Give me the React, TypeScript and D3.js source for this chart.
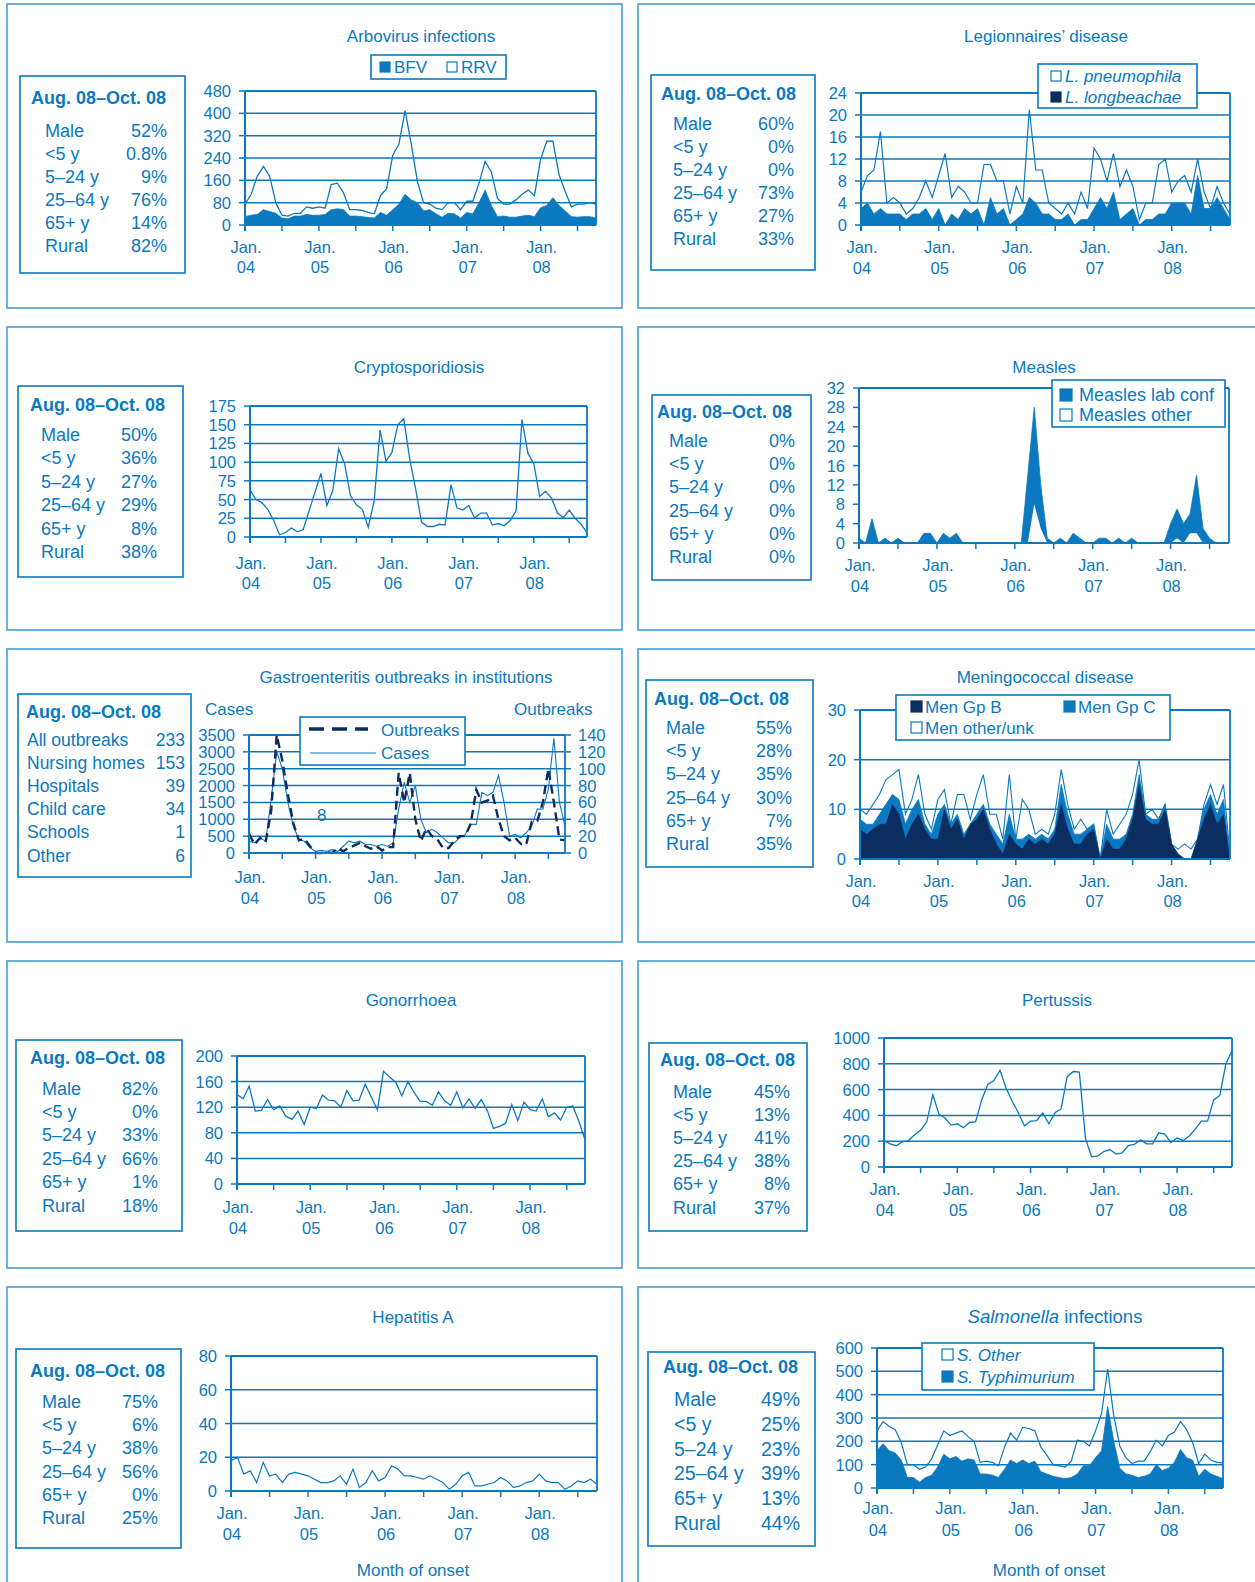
import React from "react";
import * as d3 from "d3";

const BLUE = "#0a79bf";
const NAVY = "#0c2d60";
const FRAME = "#3a97d4";
const FONT = "'Liberation Sans', Arial, Helvetica, sans-serif";

// ---------- shared axis categories (month index 0 = Jan 04 ... 57 = Oct 08) ----------
const yearLabels = ["04", "05", "06", "07", "08"];
const janMonthIndex = [0, 12, 24, 36, 48];
const halfYearTicks = [0, 6, 12, 18, 24, 30, 36, 42, 48, 54];
const demoLabels = ["Male", "<5 y", "5–24 y", "25–64 y", "65+ y", "Rural"];

// ---------- Arbovirus ----------
const arboTotal = [75,110,175,210,175,80,35,32,42,42,65,60,65,60,145,150,115,55,55,52,45,40,105,130,250,290,410,290,155,80,75,60,55,80,80,55,85,85,150,228,190,95,75,75,90,110,125,105,235,300,300,180,120,65,75,75,80,75];
const arboBFV = [30,35,38,55,48,42,25,22,32,32,38,35,35,38,55,58,55,32,32,30,27,25,45,35,55,75,110,90,80,50,55,40,28,42,40,25,45,40,80,125,70,30,32,28,28,32,35,30,62,70,98,70,50,30,28,30,30,25];
const arboStats = ["52%", "0.8%", "9%", "76%", "14%", "82%"];
const arboTicks = [0, 80, 160, 240, 320, 400, 480];

// ---------- Legionnaires ----------
const legioTotal = [6,9,10,17,4,5,4,2,3,5,8,5,9,13,5,7,6,4,4,11,11,8,8,2,7,4,21,10,10,4,3,2,4,2,6,3,14,12,8,13,7,10,7,1,4,4,11,12,6,8,9,6,12,6,3,7,4,2];
const legioLongbeachae = [3,4,2,3,2,2,2,1,2,2,3,1,3,0,2,1,3,2,3,0,5,2,3,0,1,2,5,4,2,2,1,1,2,0,1,1,3,5,3,6,1,2,3,0,1,1,2,2,4,4,4,2,9,3,3,5,3,1];
const legioStats = ["60%", "0%", "0%", "73%", "27%", "33%"];
const legioTicks = [0, 4, 8, 12, 16, 20, 24];

// ---------- Cryptosporidiosis ----------
const cryptoCases = [63,50,46,37,22,3,6,12,7,10,35,60,85,42,62,118,98,55,43,37,13,48,143,101,113,150,158,105,65,20,14,14,17,16,70,39,36,42,25,32,32,16,18,15,22,35,157,112,98,54,61,52,32,26,36,25,17,6];
const cryptoStats = ["50%", "36%", "27%", "29%", "8%", "38%"];
const cryptoTicks = [0, 25, 50, 75, 100, 125, 150, 175];

// ---------- Measles ----------
const measlesTotal = [1,0,5,0,1,0,1,0,0,0,2,2,0,2,1,2,0,0,0,0,0,0,0,0,0,0,14,28,12,1,0,1,0,2,1,0,0,1,1,0,1,0,1,0,0,0,0,0,4,7,4,6,14,3,1,0,0,0];
const measlesOther = [0,0,0,0,0,0,0,0,0,0,0,0,0,0,0,0,0,0,0,0,0,0,0,0,0,0,0,8,3,0,0,0,0,0,0,0,0,0,0,0,0,0,0,0,0,0,0,0,0,1,0,2,2,0,0,0,0,0];
const measlesStats = ["0%", "0%", "0%", "0%", "0%", "0%"];
const measlesTicks = [0, 4, 8, 12, 16, 20, 24, 28, 32];

// ---------- Gastroenteritis ----------
const gastroCases = [350,300,450,350,1600,3000,2500,1500,800,400,350,150,50,80,50,100,50,200,350,300,350,250,250,200,250,200,300,1300,2100,1500,2000,1000,600,700,600,450,300,300,450,550,850,850,1800,1700,1800,2300,1500,500,550,450,600,800,1300,1300,1900,3400,1500,800];
const gastroOutbreaks = [23,10,18,13,50,140,110,70,35,15,17,8,0,0,1,0,6,2,6,9,12,8,5,8,3,7,7,95,60,95,40,14,29,20,16,6,6,14,20,20,35,75,60,62,68,40,20,15,18,11,10,37,38,60,100,60,16,15];
const gastroLabels = ["All outbreaks", "Nursing homes", "Hospitals", "Child care", "Schools", "Other"];
const gastroStats = ["233", "153", "39", "34", "1", "6"];
const gastroCaseTicks = [0, 500, 1000, 1500, 2000, 2500, 3000, 3500];
const gastroOutbreakTicks = [0, 20, 40, 60, 80, 100, 120, 140];

// ---------- Meningococcal ----------
const meningoTotal = [10,9,11,13,16,17,18,9,12,17,9,6,12,14,7,13,13,8,13,17,9,9,4,17,4,12,10,5,6,5,9,18,11,6,8,6,7,0,10,5,7,9,13,20,9,10,8,11,3,2,3,2,4,11,15,11,15,1];
const meningoBC = [8,7,7,9,11,13,12,7,10,12,7,5,9,11,7,9,5,7,9,11,7,5,3,9,4,4,5,4,5,4,6,15,9,5,5,6,7,0,7,4,4,5,9,17,9,8,8,11,3,1,0,0,4,10,13,9,12,0];
const meningoB = [6,5,6,7,7,11,9,4,7,9,6,4,4,10,6,8,4,7,8,10,6,3,1,5,3,2,4,3,4,3,5,11,6,3,3,5,6,0,4,2,2,4,8,15,8,7,7,10,3,1,0,0,4,8,11,7,9,0];
const meningoStats = ["55%", "28%", "35%", "30%", "7%", "35%"];
const meningoTicks = [0, 10, 20, 30];

// ---------- Gonorrhoea ----------
const gonoCases = [140,133,153,114,115,132,116,122,106,101,114,93,120,118,139,131,130,120,146,130,131,156,136,116,176,167,159,138,160,143,129,129,123,144,130,123,144,119,133,118,132,115,87,90,95,124,99,128,116,114,133,105,111,100,120,122,98,69];
const gonoStats = ["82%", "0%", "33%", "66%", "1%", "18%"];
const gonoTicks = [0, 40, 80, 120, 160, 200];

// ---------- Pertussis ----------
const pertCases = [205,180,165,195,205,250,285,350,560,410,380,325,335,305,345,350,520,640,670,750,610,510,420,320,355,360,420,335,420,450,700,740,735,220,80,85,120,135,100,110,165,175,210,180,180,265,255,190,225,205,240,295,355,355,520,555,800,900];
const pertStats = ["45%", "13%", "41%", "38%", "8%", "37%"];
const pertTicks = [0, 200, 400, 600, 800, 1000];

// ---------- Hepatitis A ----------
const hepCases = [18,20,10,12,5,17,9,10,5,10,11,10,9,7,5,5,6,9,4,13,2,5,12,6,8,15,13,9,9,8,7,9,7,5,1,4,9,11,3,3,4,5,8,6,2,3,5,6,10,6,5,5,1,3,6,5,7,4];
const hepStats = ["75%", "6%", "38%", "56%", "0%", "25%"];
const hepTicks = [0, 20, 40, 60, 80];

// ---------- Salmonella ----------
const salmTotal = [245,285,265,250,195,100,100,80,90,125,185,245,225,235,245,220,200,110,115,110,95,175,235,205,260,255,245,175,140,100,95,90,115,205,200,180,245,320,510,310,180,130,105,115,115,155,205,180,225,240,285,250,195,105,145,120,110,108];
const salmTyph = [160,190,160,150,120,45,45,25,45,55,90,145,125,135,115,125,120,60,60,55,45,80,120,105,120,105,115,70,60,50,45,40,45,60,95,95,130,160,350,200,85,60,55,45,50,60,100,75,85,110,165,130,120,50,80,60,50,40];
const salmStats = ["49%", "25%", "23%", "39%", "13%", "44%"];
const salmTicks = [0, 100, 200, 300, 400, 500, 600];

// ---------- helpers ----------
type Scale = d3.ScaleLinear<number, number>;

const lineOf = (data: number[], x: Scale, y: Scale) =>
  d3.line<number>().x((_, i) => x(i)).y((d) => y(d))(data) || "";
const areaOf = (data: number[], x: Scale, y: Scale) =>
  d3.area<number>().x((_, i) => x(i)).y0(y(0)).y1((d) => y(d))(data) || "";

function Frame({ x, y, w, h }: { x: number; y: number; w: number; h: number }) {
  return <rect x={x} y={y} width={w} height={h} fill="none" stroke={FRAME} strokeWidth={1.5} />;
}

function Title({ x, y, children, size = 17 }: any) {
  return (
    <text x={x} y={y} textAnchor="middle" fontSize={size} fill={BLUE} fontFamily={FONT}>
      {children}
    </text>
  );
}

function Stats(p: {
  x: number; y: number; w: number; h: number;
  headX: number; headY: number; rowY: number; dy: number;
  labelX: number; valueX: number; size?: number;
  labels: string[]; values: string[];
}) {
  const size = p.size ?? 18;
  return (
    <g fontFamily={FONT} fill={BLUE}>
      <rect x={p.x} y={p.y} width={p.w} height={p.h} fill="white" stroke={BLUE} strokeWidth={1.6} />
      <text x={p.headX} y={p.headY} fontSize={18} fontWeight="bold">Aug. 08–Oct. 08</text>
      {p.labels.map((l, i) => (
        <g key={l}>
          <text x={p.labelX} y={p.rowY + i * p.dy} fontSize={size}>{l}</text>
          <text x={p.valueX} y={p.rowY + i * p.dy} fontSize={size} textAnchor="end">{p.values[i]}</text>
        </g>
      ))}
    </g>
  );
}

function Plot(p: {
  x0: number; x1: number; yTop: number; yBot: number;
  ticks: number[]; grid: boolean; janY: number; yrY: number;
  rightTicks?: number[];
  render: (x: Scale, y: Scale, y2: Scale | null) => React.ReactNode;
}) {
  const x = d3.scaleLinear().domain([0, 57]).range([p.x0, p.x1]);
  const y = d3.scaleLinear().domain([0, d3.max(p.ticks) as number]).range([p.yBot, p.yTop]);
  const y2 = p.rightTicks
    ? d3.scaleLinear().domain([0, d3.max(p.rightTicks) as number]).range([p.yBot, p.yTop])
    : null;
  return (
    <g fontFamily={FONT}>
      {p.grid &&
        p.ticks.map((t) => (
          <line key={"g" + t} x1={p.x0} x2={p.x1} y1={y(t)} y2={y(t)} stroke={BLUE} strokeWidth={1.5} />
        ))}
      {p.render(x, y, y2)}
      <line x1={p.x0} x2={p.x1} y1={p.yTop} y2={p.yTop} stroke={BLUE} strokeWidth={1.8} />
      <line x1={p.x1} x2={p.x1} y1={p.yTop} y2={p.yBot} stroke={BLUE} strokeWidth={1.8} />
      <line x1={p.x0} x2={p.x0} y1={p.yTop} y2={p.yBot + 6} stroke={BLUE} strokeWidth={2} />
      <line x1={p.x0} x2={p.x1} y1={p.yBot} y2={p.yBot} stroke={BLUE} strokeWidth={2} />
      {halfYearTicks.map((m) => (
        <line key={"xt" + m} x1={x(m)} x2={x(m)} y1={p.yBot} y2={p.yBot + 6} stroke={BLUE} strokeWidth={1.5} />
      ))}
      {p.ticks.map((t) => (
        <g key={"yt" + t}>
          <line x1={p.x0 - 6} x2={p.x0} y1={y(t)} y2={y(t)} stroke={BLUE} strokeWidth={1.5} />
          <text x={p.x0 - 14} y={y(t) + 6} fontSize={16.5} fill={BLUE} textAnchor="end">{t}</text>
        </g>
      ))}
      {y2 &&
        p.rightTicks!.map((t) => (
          <g key={"rt" + t}>
            <line x1={p.x1} x2={p.x1 + 6} y1={y2(t)} y2={y2(t)} stroke={BLUE} strokeWidth={1.5} />
            <text x={p.x1 + 13} y={y2(t) + 6} fontSize={16.5} fill={BLUE}>{t}</text>
          </g>
        ))}
      {janMonthIndex.map((m, i) => (
        <g key={"xl" + m}>
          <text x={x(m) + 1} y={p.janY} fontSize={16.5} fill={BLUE} textAnchor="middle">Jan.</text>
          <text x={x(m) + 1} y={p.yrY} fontSize={16.5} fill={BLUE} textAnchor="middle">{yearLabels[i]}</text>
        </g>
      ))}
    </g>
  );
}

function LegendBox({ x, y, w, h }: any) {
  return <rect x={x} y={y} width={w} height={h} fill="white" stroke={BLUE} strokeWidth={1.6} />;
}
function Swatch({ x, y, s, fill }: any) {
  return <rect x={x} y={y} width={s} height={s} fill={fill} stroke={fill === "white" ? BLUE : fill} strokeWidth={1.2} />;
}
function LText({ x, y, children, size = 17, italic = false }: any) {
  return (
    <text x={x} y={y} fontSize={size} fill={BLUE} fontFamily={FONT} fontStyle={italic ? "italic" : "normal"}>
      {children}
    </text>
  );
}

export default function App() {
  const L = 7, LW = 615, R = 638, RW = 640;
  return (
    <svg width={1255} height={1582} style={{ position: "absolute", left: 0, top: 0, display: "block" }}>
      <rect x={0} y={0} width={1255} height={1582} fill="white" />

      <Frame x={L} y={4} w={LW} h={304} />
      <Frame x={R} y={4} w={RW} h={304} />
      <Frame x={L} y={327} w={LW} h={303} />
      <Frame x={R} y={327} w={RW} h={303} />
      <Frame x={L} y={649} w={LW} h={293} />
      <Frame x={R} y={649} w={RW} h={293} />
      <Frame x={L} y={961} w={LW} h={307} />
      <Frame x={R} y={961} w={RW} h={307} />
      <Frame x={L} y={1287} w={LW} h={340} />
      <Frame x={R} y={1287} w={RW} h={340} />

      {/* ===== Arbovirus ===== */}
      <Title x={421} y={42}>Arbovirus infections</Title>
      <Stats x={20} y={76} w={165} h={197} headX={31} headY={104} rowY={137} dy={23}
        labelX={45} valueX={167} labels={demoLabels} values={arboStats} />
      <Plot x0={245} x1={596} yTop={91} yBot={225} ticks={arboTicks} grid janY={252.5} yrY={272.5}
        render={(x, y) => (
          <g>
            <path d={lineOf(arboTotal, x, y)} fill="none" stroke={BLUE} strokeWidth={1.3} />
            <path d={areaOf(arboBFV, x, y)} fill={BLUE} stroke={BLUE} strokeWidth={0.8} />
          </g>
        )} />
      <LegendBox x={371} y={55} w={135} h={24} />
      <Swatch x={380} y={62} s={10} fill={BLUE} />
      <LText x={394} y={73}>BFV</LText>
      <Swatch x={447} y={62} s={10} fill="white" />
      <LText x={461} y={73}>RRV</LText>

      {/* ===== Legionnaires ===== */}
      <Title x={1046} y={42}>Legionnaires’ disease</Title>
      <Stats x={651} y={75} w={164} h={195} headX={661} headY={100} rowY={129.5} dy={23}
        labelX={673} valueX={794} labels={demoLabels} values={legioStats} />
      <Plot x0={861} x1={1230} yTop={93} yBot={225} ticks={legioTicks} grid janY={253} yrY={274}
        render={(x, y) => (
          <g>
            <path d={lineOf(legioTotal, x, y)} fill="none" stroke={BLUE} strokeWidth={1.2} />
            <path d={areaOf(legioLongbeachae, x, y)} fill={BLUE} stroke={BLUE} strokeWidth={0.8} />
          </g>
        )} />
      <LegendBox x={1038} y={64} w={159} h={44} />
      <Swatch x={1051} y={71} s={10} fill="white" />
      <LText x={1065} y={82} italic>L. pneumophila</LText>
      <Swatch x={1051} y={92} s={10} fill={NAVY} />
      <LText x={1065} y={103} italic>L. longbeachae</LText>

      {/* ===== Cryptosporidiosis ===== */}
      <Title x={419} y={373}>Cryptosporidiosis</Title>
      <Stats x={18} y={386} w={165} h={191} headX={30} headY={411} rowY={441} dy={23.4}
        labelX={41} valueX={157} labels={demoLabels} values={cryptoStats} />
      <Plot x0={250} x1={587} yTop={406} yBot={537} ticks={cryptoTicks} grid janY={569} yrY={589}
        render={(x, y) => (
          <path d={lineOf(cryptoCases, x, y)} fill="none" stroke={BLUE} strokeWidth={1.3} />
        )} />

      {/* ===== Measles ===== */}
      <Title x={1044} y={373}>Measles</Title>
      <Stats x={652} y={395} w={159} h={185} headX={657} headY={418} rowY={447} dy={23.2}
        labelX={669} valueX={795} labels={demoLabels} values={measlesStats} />
      <Plot x0={859} x1={1229} yTop={388} yBot={543} ticks={measlesTicks} grid={false} janY={571} yrY={592}
        render={(x, y) => (
          <g>
            <path d={areaOf(measlesTotal, x, y)} fill={BLUE} stroke={BLUE} strokeWidth={0.8} />
            <path d={areaOf(measlesOther, x, y)} fill="white" stroke="none" />
          </g>
        )} />
      <LegendBox x={1052} y={380} w={173} h={47} />
      <Swatch x={1060} y={389} s={12} fill={BLUE} />
      <LText x={1079} y={401} size={18}>Measles lab conf</LText>
      <Swatch x={1060} y={409} s={12} fill="white" />
      <LText x={1079} y={421} size={18}>Measles other</LText>

      {/* ===== Gastroenteritis ===== */}
      <Title x={406} y={683}>Gastroenteritis outbreaks in institutions</Title>
      <LText x={205} y={715}>Cases</LText>
      <LText x={514} y={715}>Outbreaks</LText>
      <Stats x={18} y={694} w={173} h={183} headX={26} headY={718} rowY={745.5} dy={23.2}
        labelX={27} valueX={185} size={17.5} labels={gastroLabels} values={gastroStats} />
      <Plot x0={249} x1={565} yTop={735} yBot={853} ticks={gastroCaseTicks} rightTicks={gastroOutbreakTicks}
        grid janY={883} yrY={904}
        render={(x, y, y2) => (
          <g>
            <path d={lineOf(gastroCases, x, y)} fill="none" stroke={BLUE} strokeWidth={1.1} />
            <path d={lineOf(gastroOutbreaks, x, y2!)} fill="none" stroke={NAVY} strokeWidth={2.4} strokeDasharray="9,5" />
          </g>
        )} />
      <text x={317} y={821} fontSize={17} fill={BLUE} fontFamily={FONT}>8</text>
      <LegendBox x={300} y={717} w={165} h={48} />
      <line x1={309} x2={368} y1={729} y2={729} stroke={NAVY} strokeWidth={3.5} strokeDasharray="15,8" />
      <LText x={381} y={736}>Outbreaks</LText>
      <line x1={310} x2={376} y1={753} y2={753} stroke={BLUE} strokeWidth={1.1} />
      <LText x={381} y={759}>Cases</LText>

      {/* ===== Meningococcal ===== */}
      <Title x={1045} y={683}>Meningococcal disease</Title>
      <Stats x={646} y={680} w={167} h={187} headX={654} headY={705} rowY={734} dy={23.2}
        labelX={666} valueX={792} labels={demoLabels} values={meningoStats} />
      <Plot x0={860} x1={1230} yTop={710} yBot={859} ticks={meningoTicks} grid janY={887} yrY={907}
        render={(x, y) => (
          <g>
            <path d={lineOf(meningoTotal, x, y)} fill="none" stroke={BLUE} strokeWidth={1.1} />
            <path d={areaOf(meningoBC, x, y)} fill={BLUE} stroke={BLUE} strokeWidth={0.8} />
            <path d={areaOf(meningoB, x, y)} fill={NAVY} stroke={NAVY} strokeWidth={0.5} />
          </g>
        )} />
      <LegendBox x={896} y={695} w={274} h={45} />
      <Swatch x={911} y={701} s={11} fill={NAVY} />
      <LText x={925} y={713}>Men Gp B</LText>
      <Swatch x={1064} y={701} s={11} fill={BLUE} />
      <LText x={1078} y={713}>Men Gp C</LText>
      <Swatch x={911} y={722} s={11} fill="white" />
      <LText x={925} y={734}>Men other/unk</LText>

      {/* ===== Gonorrhoea ===== */}
      <Title x={411} y={1006}>Gonorrhoea</Title>
      <Stats x={16} y={1040} w={166} h={191} headX={30} headY={1064} rowY={1094.5} dy={23.4}
        labelX={42} valueX={158} labels={demoLabels} values={gonoStats} />
      <Plot x0={237} x1={585} yTop={1056} yBot={1184} ticks={gonoTicks} grid janY={1213} yrY={1234}
        render={(x, y) => (
          <path d={lineOf(gonoCases, x, y)} fill="none" stroke={BLUE} strokeWidth={1.3} />
        )} />

      {/* ===== Pertussis ===== */}
      <Title x={1057} y={1006}>Pertussis</Title>
      <Stats x={649} y={1043} w={158} h={188} headX={660} headY={1066} rowY={1097.5} dy={23.2}
        labelX={673} valueX={790} labels={demoLabels} values={pertStats} />
      <Plot x0={884} x1={1232} yTop={1038} yBot={1167} ticks={pertTicks} grid janY={1195} yrY={1216}
        render={(x, y) => (
          <path d={lineOf(pertCases, x, y)} fill="none" stroke={BLUE} strokeWidth={1.3} />
        )} />

      {/* ===== Hepatitis A ===== */}
      <Title x={413} y={1323}>Hepatitis A</Title>
      <Stats x={16} y={1349} w={165} h={199} headX={30} headY={1377} rowY={1408} dy={23.2}
        labelX={42} valueX={158} labels={demoLabels} values={hepStats} />
      <Plot x0={231} x1={597} yTop={1356} yBot={1491} ticks={hepTicks} grid janY={1519} yrY={1540}
        render={(x, y) => (
          <path d={lineOf(hepCases, x, y)} fill="none" stroke={BLUE} strokeWidth={1.2} />
        )} />
      <Title x={413} y={1576}>Month of onset</Title>

      {/* ===== Salmonella ===== */}
      <Title x={1055} y={1323} size={18.5}>
        <tspan fontStyle="italic">Salmonella</tspan> infections
      </Title>
      <Stats x={648} y={1352} w={167} h={194} headX={663} headY={1373} rowY={1406} dy={24.8}
        labelX={674} valueX={800} size={19.5} labels={demoLabels} values={salmStats} />
      <Plot x0={877} x1={1223} yTop={1348} yBot={1488} ticks={salmTicks} grid janY={1514} yrY={1536}
        render={(x, y) => (
          <g>
            <path d={lineOf(salmTotal, x, y)} fill="none" stroke={BLUE} strokeWidth={1.2} />
            <path d={areaOf(salmTyph, x, y)} fill={BLUE} stroke={BLUE} strokeWidth={0.8} />
          </g>
        )} />
      <LegendBox x={922} y={1343} w={172} h={47} />
      <Swatch x={942} y={1349} s={11} fill="white" />
      <LText x={957} y={1361} italic>S. Other</LText>
      <Swatch x={942} y={1371} s={11} fill={BLUE} />
      <LText x={957} y={1383} italic>S. Typhimurium</LText>
      <Title x={1049} y={1576}>Month of onset</Title>
    </svg>
  );
}
